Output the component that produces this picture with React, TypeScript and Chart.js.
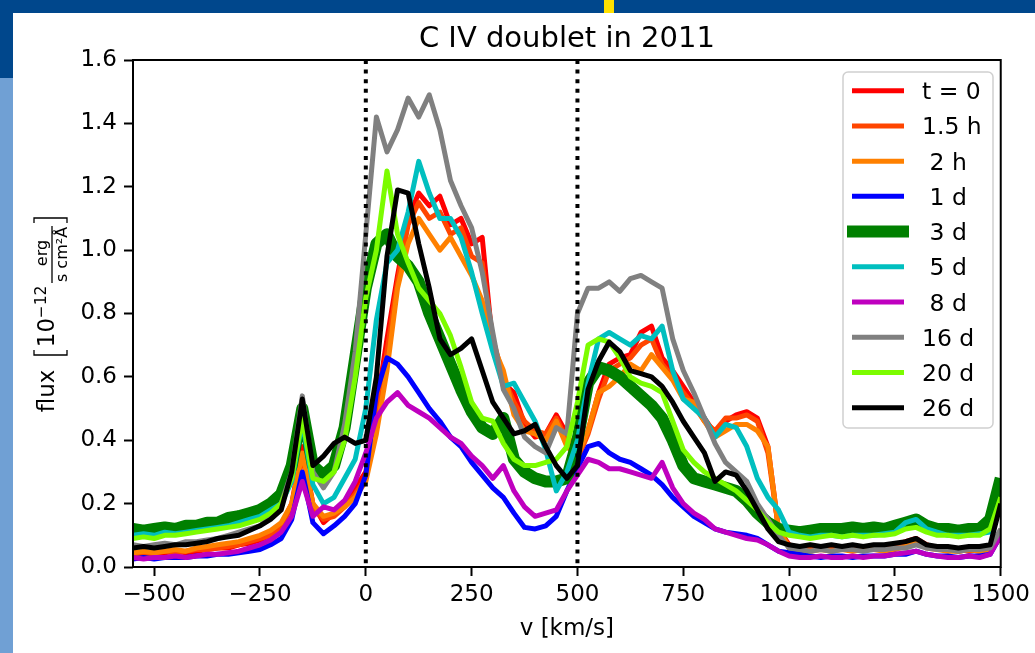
import { useEffect, useRef } from 'react';
import { Chart, registerables } from 'chart.js';

Chart.register(...registerables);

const FONT = '"DejaVu Sans", Verdana, sans-serif';

// Velocity grid (km/s)
const VELOCITY = [
  -550, -525, -500, -475, -450, -425, -400, -375, -350, -325,
  -300, -275, -250, -225, -200, -175, -150, -125, -100, -75,
  -50, -25, 0, 25, 50, 75, 100, 125, 150, 175,
  200, 225, 250, 275, 300, 325, 350, 375, 400, 425,
  450, 475, 500, 525, 550, 575, 600, 625, 650, 675,
  700, 725, 750, 775, 800, 825, 850, 875, 900, 925,
  950, 975, 1000, 1025, 1050, 1075, 1100, 1125, 1150, 1175,
  1200, 1225, 1250, 1275, 1300, 1325, 1350, 1375, 1400, 1425,
  1450, 1475, 1500,
];

const T0 = [
  0.040, 0.045, 0.040, 0.045, 0.050, 0.045, 0.050, 0.055, 0.060, 0.060,
  0.070, 0.075, 0.085, 0.100, 0.130, 0.200, 0.380, 0.200, 0.140, 0.170,
  0.200, 0.250, 0.300, 0.500, 0.720, 0.920, 1.100, 1.180, 1.140, 1.170,
  1.080, 1.100, 1.020, 1.040, 0.700, 0.580, 0.550, 0.450, 0.410, 0.420,
  0.480, 0.420, 0.350, 0.430, 0.550, 0.640, 0.660, 0.670, 0.740, 0.760,
  0.660, 0.620, 0.570, 0.520, 0.470, 0.420, 0.460, 0.480, 0.490, 0.470,
  0.380, 0.120, 0.070, 0.060, 0.055, 0.060, 0.055, 0.060, 0.060, 0.055,
  0.060, 0.060, 0.065, 0.080, 0.090, 0.070, 0.060, 0.055, 0.050, 0.055,
  0.050, 0.060, 0.100,
];

const H1_5 = [
  0.045, 0.040, 0.045, 0.050, 0.045, 0.050, 0.055, 0.055, 0.060, 0.065,
  0.070, 0.080, 0.090, 0.100, 0.130, 0.190, 0.350, 0.190, 0.150, 0.160,
  0.190, 0.230, 0.280, 0.450, 0.680, 0.900, 1.080, 1.150, 1.100, 1.120,
  1.050, 1.070, 0.980, 0.960, 0.720, 0.600, 0.520, 0.460, 0.430, 0.420,
  0.470, 0.400, 0.340, 0.420, 0.530, 0.620, 0.640, 0.660, 0.700, 0.720,
  0.640, 0.600, 0.550, 0.510, 0.460, 0.430, 0.470, 0.470, 0.480, 0.460,
  0.360, 0.120, 0.065, 0.055, 0.055, 0.055, 0.060, 0.055, 0.060, 0.060,
  0.055, 0.060, 0.065, 0.075, 0.085, 0.070, 0.060, 0.055, 0.055, 0.050,
  0.055, 0.060, 0.100,
];

const H2 = [
  0.045, 0.050, 0.045, 0.050, 0.055, 0.050, 0.060, 0.065, 0.070, 0.075,
  0.080, 0.090, 0.100, 0.115, 0.140, 0.200, 0.360, 0.200, 0.160, 0.170,
  0.190, 0.220, 0.270, 0.420, 0.620, 0.880, 1.020, 1.100, 1.050, 1.000,
  1.040, 0.980, 0.920, 0.840, 0.700, 0.620, 0.480, 0.430, 0.420, 0.400,
  0.460, 0.380, 0.350, 0.430, 0.550, 0.570, 0.600, 0.640, 0.620, 0.670,
  0.630, 0.590, 0.530, 0.520, 0.460, 0.410, 0.430, 0.450, 0.450, 0.430,
  0.380, 0.120, 0.060, 0.050, 0.050, 0.055, 0.050, 0.055, 0.050, 0.055,
  0.055, 0.050, 0.055, 0.065, 0.080, 0.060, 0.055, 0.050, 0.050, 0.055,
  0.050, 0.055, 0.090,
];

const D1 = [
  0.025, 0.030, 0.025, 0.030, 0.030, 0.030, 0.035, 0.035, 0.040, 0.040,
  0.045, 0.050, 0.055, 0.070, 0.090, 0.150, 0.300, 0.140, 0.105, 0.130,
  0.160, 0.200, 0.290, 0.550, 0.660, 0.640, 0.600, 0.550, 0.500, 0.460,
  0.410, 0.380, 0.330, 0.290, 0.250, 0.220, 0.170, 0.125, 0.120, 0.130,
  0.160, 0.240, 0.310, 0.380, 0.390, 0.360, 0.340, 0.330, 0.310, 0.290,
  0.260, 0.220, 0.190, 0.160, 0.140, 0.120, 0.110, 0.105, 0.100, 0.090,
  0.070, 0.050, 0.045, 0.040, 0.035, 0.030, 0.035, 0.035, 0.030, 0.035,
  0.035, 0.035, 0.040, 0.040, 0.050, 0.040, 0.035, 0.035, 0.030, 0.035,
  0.035, 0.040, 0.100,
];

const D3 = [
  0.120, 0.115, 0.120, 0.125, 0.120, 0.130, 0.130, 0.140, 0.140, 0.155,
  0.160, 0.170, 0.180, 0.200, 0.230, 0.320, 0.500, 0.320, 0.290, 0.320,
  0.440, 0.660, 0.880, 1.020, 1.050, 0.980, 0.950, 0.900, 0.800, 0.720,
  0.640, 0.560, 0.490, 0.440, 0.420, 0.470, 0.340, 0.300, 0.280, 0.270,
  0.270, 0.280, 0.400, 0.580, 0.630, 0.620, 0.600, 0.570, 0.540, 0.510,
  0.470, 0.400, 0.320, 0.280, 0.270, 0.260, 0.250, 0.240, 0.210, 0.170,
  0.140, 0.120, 0.115, 0.110, 0.115, 0.120, 0.120, 0.120, 0.125, 0.120,
  0.125, 0.120, 0.130, 0.140, 0.150, 0.130, 0.120, 0.120, 0.115, 0.120,
  0.120, 0.150, 0.280,
];

const D5 = [
  0.100, 0.105, 0.100, 0.110, 0.105, 0.110, 0.115, 0.120, 0.125, 0.130,
  0.140, 0.150, 0.160, 0.180, 0.200, 0.270, 0.460, 0.260, 0.200, 0.220,
  0.280, 0.340, 0.500, 0.780, 0.960, 1.000, 1.120, 1.280, 1.180, 1.100,
  1.100, 1.040, 0.930, 0.800, 0.680, 0.570, 0.580, 0.520, 0.460, 0.370,
  0.240, 0.300, 0.400, 0.580, 0.720, 0.740, 0.720, 0.700, 0.730, 0.720,
  0.760, 0.620, 0.530, 0.500, 0.470, 0.410, 0.450, 0.440, 0.380, 0.280,
  0.220, 0.180, 0.110, 0.100, 0.095, 0.100, 0.100, 0.095, 0.100, 0.100,
  0.100, 0.105, 0.110, 0.140, 0.150, 0.120, 0.110, 0.100, 0.100, 0.100,
  0.105, 0.110, 0.200,
];

const D8 = [
  0.030, 0.025, 0.030, 0.030, 0.035, 0.030, 0.035, 0.040, 0.040, 0.045,
  0.050, 0.060, 0.070, 0.085, 0.110, 0.160, 0.270, 0.160, 0.190, 0.180,
  0.210, 0.270, 0.360, 0.470, 0.520, 0.550, 0.510, 0.490, 0.470, 0.440,
  0.410, 0.390, 0.350, 0.320, 0.280, 0.320, 0.240, 0.190, 0.160, 0.170,
  0.180, 0.240, 0.290, 0.340, 0.330, 0.310, 0.310, 0.300, 0.290, 0.280,
  0.330, 0.250, 0.200, 0.170, 0.150, 0.120, 0.110, 0.100, 0.090, 0.085,
  0.070, 0.050, 0.035, 0.030, 0.030, 0.035, 0.030, 0.030, 0.035, 0.030,
  0.035, 0.035, 0.040, 0.045, 0.050, 0.040, 0.035, 0.030, 0.030, 0.035,
  0.030, 0.040, 0.100,
];

const D16 = [
  0.070, 0.065, 0.070, 0.075, 0.070, 0.080, 0.080, 0.085, 0.090, 0.100,
  0.110, 0.120, 0.130, 0.160, 0.200, 0.300, 0.540, 0.300, 0.250, 0.300,
  0.450, 0.680, 1.050, 1.420, 1.310, 1.380, 1.480, 1.420, 1.490, 1.380,
  1.220, 1.140, 1.070, 0.930, 0.740, 0.560, 0.500, 0.410, 0.380, 0.360,
  0.440, 0.420, 0.800, 0.880, 0.880, 0.900, 0.870, 0.910, 0.920, 0.900,
  0.880, 0.720, 0.620, 0.550, 0.470, 0.390, 0.330, 0.300, 0.270, 0.200,
  0.150, 0.100, 0.060, 0.055, 0.050, 0.055, 0.050, 0.055, 0.055, 0.050,
  0.055, 0.055, 0.060, 0.060, 0.070, 0.060, 0.055, 0.055, 0.050, 0.055,
  0.055, 0.060, 0.120,
];

const D20 = [
  0.090, 0.095, 0.090, 0.100, 0.100, 0.105, 0.110, 0.115, 0.120, 0.125,
  0.130, 0.140, 0.150, 0.170, 0.200, 0.280, 0.470, 0.280, 0.270, 0.300,
  0.400, 0.600, 0.850, 1.000, 1.250, 1.050, 0.960, 0.880, 0.840, 0.800,
  0.730, 0.630, 0.520, 0.470, 0.460, 0.390, 0.340, 0.320, 0.320, 0.330,
  0.340, 0.380, 0.520, 0.700, 0.720, 0.710, 0.660, 0.600, 0.580, 0.570,
  0.550, 0.460, 0.370, 0.330, 0.300, 0.280, 0.260, 0.240, 0.210, 0.180,
  0.140, 0.110, 0.100, 0.095, 0.090, 0.095, 0.100, 0.095, 0.100, 0.095,
  0.100, 0.100, 0.105, 0.120, 0.125, 0.110, 0.100, 0.100, 0.095, 0.100,
  0.100, 0.120, 0.220,
];

const D26 = [
  0.060, 0.065, 0.060, 0.065, 0.070, 0.070, 0.075, 0.080, 0.090, 0.095,
  0.100, 0.115, 0.130, 0.150, 0.180, 0.300, 0.530, 0.320, 0.350, 0.390,
  0.410, 0.390, 0.400, 0.600, 0.980, 1.190, 1.180, 1.020, 0.880, 0.720,
  0.670, 0.690, 0.720, 0.620, 0.520, 0.470, 0.420, 0.430, 0.450, 0.380,
  0.320, 0.280, 0.320, 0.560, 0.650, 0.710, 0.680, 0.620, 0.610, 0.600,
  0.570, 0.520, 0.460, 0.410, 0.360, 0.270, 0.300, 0.290, 0.240, 0.180,
  0.120, 0.080, 0.070, 0.065, 0.070, 0.065, 0.070, 0.065, 0.070, 0.065,
  0.070, 0.070, 0.075, 0.080, 0.090, 0.070, 0.065, 0.065, 0.060, 0.065,
  0.065, 0.070, 0.200,
];

const LABELS = ['t = 0', '1.5 h', ' 2 h', ' 1 d', ' 3 d', ' 5 d', ' 8 d', '16 d', '20 d', '26 d'];
const VALUES = [T0, H1_5, H2, D1, D3, D5, D8, D16, D20, D26];
const COLORS = ['#ff0000', '#ff4500', '#ff8000', '#0000ff', '#008000', '#00bfbf', '#bf00bf', '#808080', '#7cfc00', '#000000'];
const WIDTHS = [5, 5, 5, 5, 12, 5, 5, 5, 5, 5];

const MARKERS = [0, 500];
const X_TICKS = [-500, -250, 0, 250, 500, 750, 1000, 1250, 1500];
const Y_TICKS = [0, 0.2, 0.4, 0.6, 0.8, 1.0, 1.2, 1.4, 1.6];
const X_MIN = -550;
const X_MAX = 1500;
const Y_MIN = 0;
const Y_MAX = 1.6;

const TITLE = 'C IV doublet in 2011';
const X_LABEL = 'v [km/s]';

function vtext(ctx: CanvasRenderingContext2D, text: string, x: number, y: number, size: number) {
  ctx.save();
  ctx.translate(x, y);
  ctx.rotate(-Math.PI / 2);
  ctx.font = `${size}px ${FONT}`;
  ctx.textAlign = 'center';
  ctx.textBaseline = 'alphabetic';
  ctx.fillStyle = '#000';
  ctx.fillText(text, 0, 0);
  ctx.restore();
}

const decor = {
  id: 'decor',
  beforeDraw(chart: any) {
    const ctx: CanvasRenderingContext2D = chart.ctx;
    ctx.save();
    ctx.fillStyle = '#ffffff';
    ctx.fillRect(0, 0, chart.width, chart.height);
    ctx.fillStyle = '#00478c';
    ctx.fillRect(0, 0, chart.width, 13);
    ctx.fillRect(0, 0, 13, 78);
    ctx.fillStyle = '#70a0d4';
    ctx.fillRect(0, 78, 13, chart.height - 78);
    ctx.fillStyle = '#ffe000';
    ctx.fillRect(604, 0, 10, 13);
    ctx.restore();
  },
  afterDraw(chart: any) {
    const ctx: CanvasRenderingContext2D = chart.ctx;
    const a = chart.chartArea;
    ctx.save();
    // spines
    ctx.strokeStyle = '#000';
    ctx.lineWidth = 2;
    ctx.strokeRect(a.left, a.top, a.right - a.left, a.bottom - a.top);

    // title
    ctx.fillStyle = '#000';
    ctx.font = `29px ${FONT}`;
    ctx.textAlign = 'center';
    ctx.textBaseline = 'alphabetic';
    ctx.fillText(TITLE, (a.left + a.right) / 2, 47);

    // x label
    ctx.font = `23px ${FONT}`;
    ctx.fillText(X_LABEL, (a.left + a.right) / 2, 635);

    // y label
    vtext(ctx, 'flux', 54, 391, 23);
    vtext(ctx, '10', 54, 332.5, 23);
    vtext(ctx, '\u221212', 46, 302, 15.5);
    vtext(ctx, 'erg', 47, 253, 16);
    vtext(ctx, 's cm\u00b2\u00c5', 67, 254.5, 16);
    ctx.lineWidth = 1.3;
    ctx.beginPath();
    ctx.moveTo(52, 226);
    ctx.lineTo(52, 283);
    ctx.stroke();
    ctx.beginPath();
    ctx.moveTo(34, 350);
    ctx.lineTo(34, 355);
    ctx.lineTo(67, 355);
    ctx.lineTo(67, 350);
    ctx.moveTo(34, 223);
    ctx.lineTo(34, 218);
    ctx.lineTo(67, 218);
    ctx.lineTo(67, 223);
    ctx.stroke();

    // legend
    const lx = 843, ly = 72, lw = 150, lh = 356, r = 5;
    ctx.beginPath();
    ctx.moveTo(lx + r, ly);
    ctx.arcTo(lx + lw, ly, lx + lw, ly + lh, r);
    ctx.arcTo(lx + lw, ly + lh, lx, ly + lh, r);
    ctx.arcTo(lx, ly + lh, lx, ly, r);
    ctx.arcTo(lx, ly, lx + lw, ly, r);
    ctx.closePath();
    ctx.fillStyle = 'rgba(255,255,255,0.8)';
    ctx.fill();
    ctx.strokeStyle = '#d0d0d0';
    ctx.lineWidth = 1.5;
    ctx.stroke();

    ctx.font = `23.5px ${FONT}`;
    ctx.textAlign = 'left';
    LABELS.forEach((lab, i) => {
      const cy = 90.7 + i * 35.22;
      ctx.strokeStyle = COLORS[i];
      ctx.lineWidth = WIDTHS[i];
      ctx.lineCap = 'butt';
      ctx.beginPath();
      if (WIDTHS[i] > 6) {
        ctx.moveTo(847, cy);
        ctx.lineTo(909, cy);
      } else {
        ctx.moveTo(852, cy);
        ctx.lineTo(904, cy);
      }
      ctx.stroke();
      ctx.fillStyle = '#000';
      ctx.fillText(lab, 922, cy + 8.5);
    });
    ctx.restore();
  },
};

export default function App() {
  const ref = useRef<HTMLCanvasElement>(null);
  useEffect(() => {
    const n = VALUES.length;
    const datasets: any[] = VALUES.map((vals, i) => ({
      label: LABELS[i],
      data: VELOCITY.map((v, j) => ({ x: v, y: vals[j] })),
      borderColor: COLORS[i],
      backgroundColor: COLORS[i],
      borderWidth: WIDTHS[i],
      pointRadius: 0,
      tension: 0,
      fill: false,
      borderJoinStyle: 'round',
      borderCapStyle: 'butt',
      clip: 0,
      order: n - i + 1,
    }));
    MARKERS.forEach((m) => {
      datasets.push({
        label: 'marker ' + m,
        data: [{ x: m, y: Y_MAX }, { x: m, y: Y_MIN }],
        borderColor: '#000',
        borderWidth: 4,
        borderDash: [4, 5.6],
        borderCapStyle: 'butt',
        pointRadius: 0,
        fill: false,
        clip: 0,
        order: 0,
      });
    });

    const tickFont = { family: FONT, size: 23 };
    const chart = new Chart(ref.current!, {
      type: 'line',
      data: { datasets },
      options: {
        responsive: false,
        animation: false,
        devicePixelRatio: 1,
        layout: { padding: { left: 73, top: 60, right: 31, bottom: 46 } },
        plugins: { legend: { display: false }, tooltip: { enabled: false }, title: { display: false } },
        scales: {
          x: {
            type: 'linear',
            min: X_MIN,
            max: X_MAX,
            afterBuildTicks: (s: any) => {
              s.ticks = X_TICKS.map((v) => ({ value: v }));
            },
            afterFit: (s: any) => {
              s.height = 40;
            },
            ticks: {
              font: tickFont,
              color: '#000',
              padding: 5,
              maxRotation: 0,
              autoSkip: false,
              callback: (v: any) => (v < 0 ? '\u2212' + Math.abs(v) : String(v)),
            },
            grid: { drawOnChartArea: false, tickLength: 9, tickWidth: 2, tickColor: '#000', color: '#000' },
            border: { display: false },
          },
          y: {
            type: 'linear',
            min: Y_MIN,
            max: Y_MAX,
            afterBuildTicks: (s: any) => {
              s.ticks = Y_TICKS.map((v) => ({ value: v }));
            },
            afterFit: (s: any) => {
              s.width = 60;
            },
            ticks: {
              font: tickFont,
              color: '#000',
              padding: 7,
              autoSkip: false,
              callback: (v: any) => Number(v).toFixed(1),
            },
            grid: { drawOnChartArea: false, tickLength: 9, tickWidth: 2, tickColor: '#000', color: '#000' },
            border: { display: false },
          },
        },
      },
      plugins: [decor],
    } as any);
    return () => chart.destroy();
  }, []);

  return (
    <div style={{ position: 'absolute', left: 0, top: 0, width: 1035, height: 653 }}>
      <canvas ref={ref} width={1035} height={653} style={{ display: 'block' }} />
    </div>
  );
}
